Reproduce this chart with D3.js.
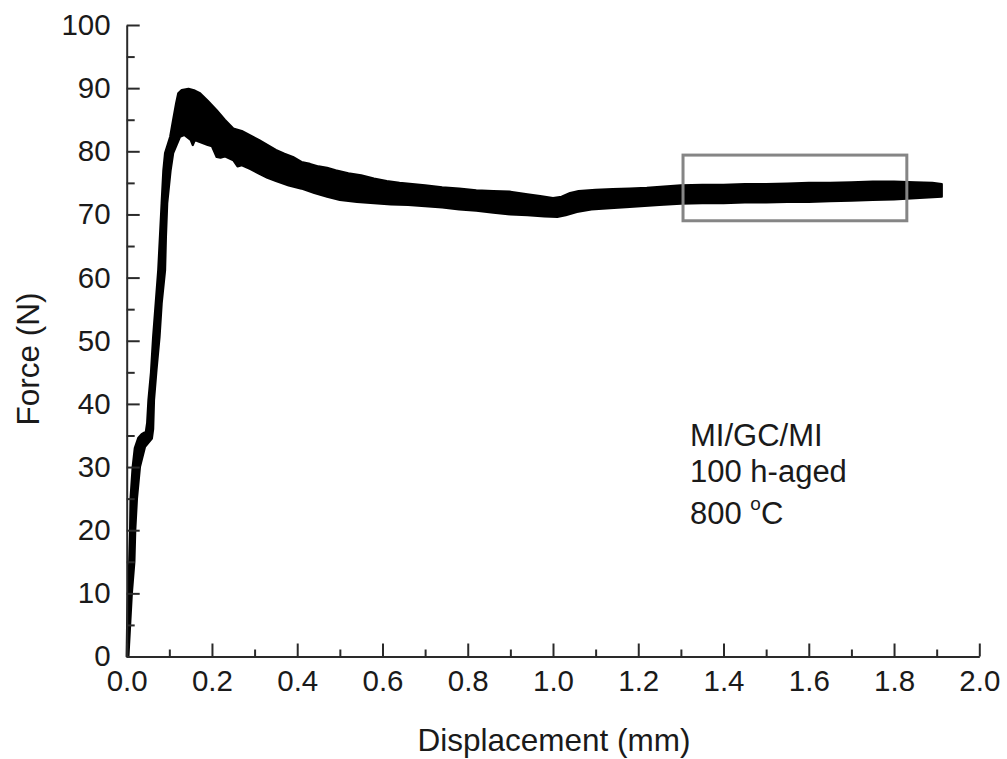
<!DOCTYPE html>
<html>
<head>
<meta charset="utf-8">
<script src="https://cdn.jsdelivr.net/npm/d3@7"></script>
<style>
  html, body { margin: 0; padding: 0; background: #fff; }
  svg text { font-family: "Liberation Sans", Arial, Helvetica, sans-serif; fill: #1a1a1a; }
</style>
</head>
<body>
<svg id="chart" width="1007" height="759"></svg>
<script>
// Force–displacement record: the noisy trace is stored as its upper and lower envelopes.
const upperEnvelope = [
  [0.000,0],[0.001,5],[0.003,10],[0.006,15],[0.008,20],[0.009,25],[0.014,30],[0.019,33],
  [0.027,34.6],[0.035,35.2],[0.045,35.6],[0.048,37],[0.051,40.6],[0.057,45],[0.062,50.6],
  [0.068,55.9],[0.074,61.2],[0.078,66.5],[0.082,71.8],[0.086,77],[0.090,79.7],[0.102,82.3],
  [0.109,85],[0.116,87.6],[0.121,89.2],[0.129,89.7],[0.145,89.9],[0.160,89.6],[0.172,89.2],
  [0.190,88],[0.211,86.5],[0.230,85],[0.250,83.6],[0.270,83.2],[0.290,82.5],[0.310,81.8],
  [0.330,81],[0.350,80.2],[0.370,79.6],[0.390,79.1],[0.410,78.3],[0.430,78],[0.450,77.6],
  [0.470,77.4],[0.490,77],[0.520,76.5],[0.550,76.2],[0.580,75.7],[0.610,75.3],[0.640,75],
  [0.670,74.8],[0.700,74.6],[0.740,74.3],[0.780,74.1],[0.820,73.8],[0.860,73.7],[0.900,73.6],
  [0.940,73.2],[0.970,72.9],[1.000,72.6],[1.020,72.8],[1.040,73.4],[1.060,73.7],[1.100,73.9],
  [1.140,74],[1.180,74.1],[1.220,74.2],[1.260,74.4],[1.300,74.6],[1.350,74.7],[1.400,74.7],
  [1.450,74.8],[1.500,74.8],[1.550,74.9],[1.600,75],[1.650,75],[1.700,75.1],[1.750,75.2],
  [1.800,75.2],[1.850,75.1],[1.890,75],[1.912,74.8]
];
const lowerEnvelope = [
  [0.004,0],[0.008,5],[0.012,10],[0.018,15],[0.020,20],[0.024,25],[0.031,30],[0.043,33.2],
  [0.059,34.5],[0.062,36],[0.064,40.6],[0.070,45.5],[0.077,50.6],[0.082,55.9],[0.090,61.2],
  [0.092,66.5],[0.095,71.8],[0.103,77],[0.109,79.7],[0.125,82.3],[0.135,82.6],[0.150,81.8],
  [0.155,81.0],[0.160,81.8],[0.170,81.5],[0.190,81.0],[0.200,80.8],[0.211,79.1],[0.220,79.0],
  [0.230,79.2],[0.250,78.6],[0.260,77.6],[0.270,77.8],[0.290,77.2],[0.310,76.5],[0.330,75.8],
  [0.350,75.3],[0.380,74.6],[0.410,74.1],[0.440,73.4],[0.470,72.8],[0.500,72.3],[0.540,72.0],
  [0.580,71.8],[0.620,71.6],[0.660,71.5],[0.700,71.3],[0.740,71.1],[0.780,70.8],[0.820,70.6],
  [0.860,70.3],[0.900,70.0],[0.940,69.9],[0.980,69.7],[1.010,69.6],[1.030,69.9],[1.056,70.4],
  [1.090,70.8],[1.134,71.0],[1.180,71.2],[1.250,71.5],[1.300,71.7],[1.350,71.8],[1.400,71.8],
  [1.450,71.9],[1.500,71.9],[1.550,72.0],[1.600,72.0],[1.650,72.1],[1.700,72.2],[1.750,72.3],
  [1.800,72.4],[1.850,72.6],[1.912,72.8]
];

// Highlighted steady-state window
const boxDisp = [1.305, 1.83];
const boxForce = [69, 79.4];

// Axes
const xDomain = [0, 2];
const yDomain = [0, 100];
const xMajorTicks = [0, 0.2, 0.4, 0.6, 0.8, 1.0, 1.2, 1.4, 1.6, 1.8, 2.0];
const xMinorTicks = [0.1, 0.3, 0.5, 0.7, 0.9, 1.1, 1.3, 1.5, 1.7, 1.9];
const yMajorTicks = [0, 10, 20, 30, 40, 50, 60, 70, 80, 90, 100];
const yMinorTicks = [5, 15, 25, 35, 45, 55, 65, 75, 85, 95];
const xTitle = "Displacement (mm)";
const yTitle = "Force (N)";
const noteLines = ["MI/GC/MI", "100 h-aged"];

const svg = d3.select("#chart");
const x = d3.scaleLinear().domain(xDomain).range([126.7, 979.3]);
const y = d3.scaleLinear().domain(yDomain).range([656.5, 25]);

const axisColor = "#2a2a2a";
const tickFont = 29.5;
const titleFont = 31.5;
const noteFont = 31;

// Trace band: upper edge forward, lower edge back
const outline = upperEnvelope.concat(lowerEnvelope.slice().reverse());
const line = d3.line().x(d => x(d[0])).y(d => y(d[1]));
svg.append("path")
  .attr("d", line(outline) + "Z")
  .attr("fill", "#000")
  .attr("stroke", "#000")
  .attr("stroke-width", 2.2)
  .attr("stroke-linejoin", "round");

// Highlight box
svg.append("rect")
  .attr("x", x(boxDisp[0]))
  .attr("y", y(boxForce[1]))
  .attr("width", x(boxDisp[1]) - x(boxDisp[0]))
  .attr("height", y(boxForce[0]) - y(boxForce[1]))
  .attr("fill", "none")
  .attr("stroke", "#858585")
  .attr("stroke-width", 3);

// X axis (inward ticks)
const gx = svg.append("g").attr("transform", `translate(0,${y(0)})`);
gx.call(d3.axisBottom(x).tickValues(xMajorTicks).tickFormat(d3.format(".1f"))
  .tickSizeInner(-13).tickSizeOuter(0).tickPadding(14));
const gxm = svg.append("g").attr("transform", `translate(0,${y(0)})`);
gxm.call(d3.axisBottom(x).tickValues(xMinorTicks).tickFormat("").tickSizeInner(-7).tickSizeOuter(0));
gxm.select(".domain").remove();

// Y axis (inward ticks)
const gy = svg.append("g").attr("transform", `translate(${x(0)},0)`);
gy.call(d3.axisLeft(y).tickValues(yMajorTicks).tickFormat(d3.format("d"))
  .tickSizeInner(-13).tickSizeOuter(0).tickPadding(16));
const gym = svg.append("g").attr("transform", `translate(${x(0)},0)`);
gym.call(d3.axisLeft(y).tickValues(yMinorTicks).tickFormat("").tickSizeInner(-8).tickSizeOuter(0));
gym.select(".domain").remove();

svg.selectAll(".domain, .tick line")
  .attr("stroke", axisColor)
  .attr("stroke-width", 2);
svg.selectAll(".tick text")
  .attr("font-size", tickFont)
  .attr("font-family", null)
  .style("fill", "#1a1a1a");

// Axis titles
svg.append("text")
  .attr("x", (x(0) + x(2)) / 2 + 1)
  .attr("y", 751)
  .attr("text-anchor", "middle")
  .attr("font-size", titleFont)
  .text(xTitle);

svg.append("text")
  .attr("transform", `translate(39,${359}) rotate(-90)`)
  .attr("text-anchor", "middle")
  .attr("font-size", titleFont)
  .text(yTitle);

// Specimen note
const noteX = 690;
const noteBaselines = [446, 482, 524];
noteLines.forEach((t, i) => {
  svg.append("text")
    .attr("x", noteX)
    .attr("y", noteBaselines[i])
    .attr("font-size", noteFont)
    .text(t);
});
const temp = svg.append("text")
  .attr("x", noteX)
  .attr("y", noteBaselines[2])
  .attr("font-size", noteFont);
temp.append("tspan").text("800 ");
temp.append("tspan").attr("font-size", 19).attr("dy", -14).text("o");
temp.append("tspan").attr("dy", 14).text("C");
</script>
</body>
</html>
